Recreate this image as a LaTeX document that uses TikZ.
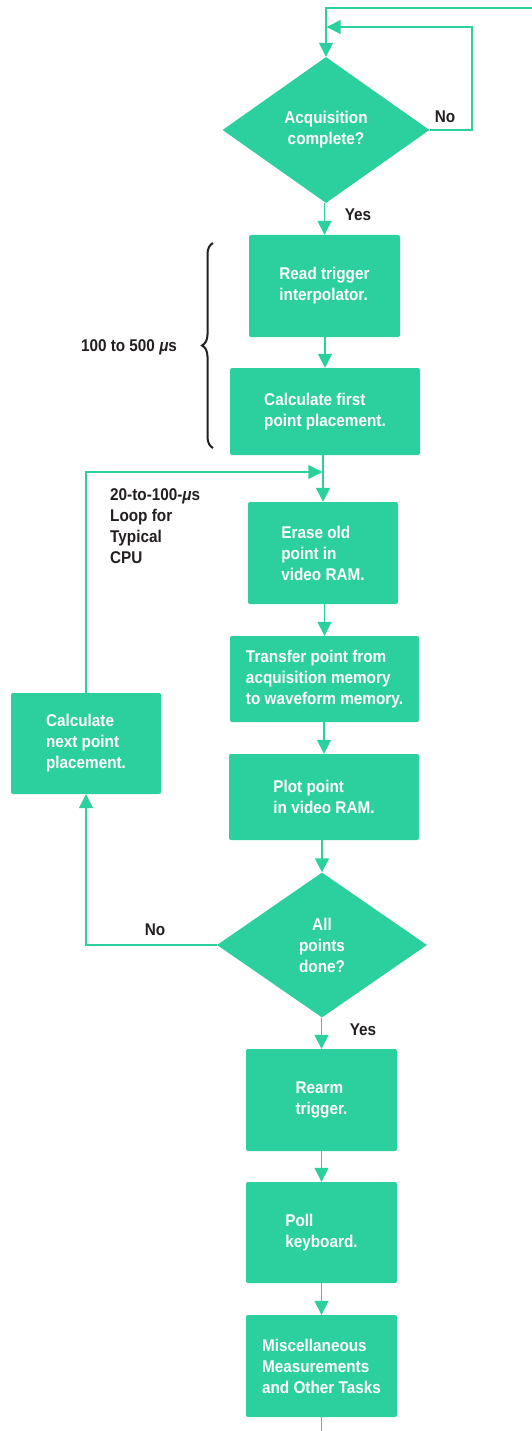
\documentclass[tikz,border=0pt]{standalone}
\usepackage{fontspec}
\setmainfont{Liberation Sans}[FakeStretch=0.9]
\usetikzlibrary{arrows.meta,shapes.geometric,decorations.pathreplacing}
\definecolor{flowteal}{RGB}{44,208,158}
\definecolor{labelink}{RGB}{35,31,32}
\newcommand{\flowfont}{\fontsize{17}{21}\selectfont\bfseries}
\begin{document}
\begin{tikzpicture}[x=1pt,y=-1pt,
  box/.style={rectangle, fill=flowteal, rounded corners=2pt, text=white,
    align=left, font=\flowfont, inner sep=0pt},
  decision/.style={diamond, fill=flowteal, text=white, align=center,
    font=\flowfont, inner sep=0pt},
  note/.style={text=labelink, font=\flowfont, inner sep=0pt, align=left},
  link/.style={draw=flowteal, line width=1.5pt},
  flow/.style={link, -{Triangle[width=14pt,length=14pt]}},
]
\useasboundingbox (0,0) rectangle (532,1431);

% decision and process blocks
\node[decision, minimum width=207pt, minimum height=146pt] (acq) at (326,130)
  {Acquisition\\complete?};
\node[box, minimum width=151pt, minimum height=102pt] (readtrig) at (324.5,286)
  {Read trigger\\interpolator.};
\node[box, minimum width=190pt, minimum height=87pt] (firstpt) at (325,411.5)
  {Calculate first\\point placement.};
\node[box, minimum width=150pt, minimum height=102pt] (erase) at (323,553)
  {Erase old\\point in\\video RAM.};
\node[box, minimum width=189pt, minimum height=86pt] (transfer) at (324.5,679)
  {Transfer point from\\acquisition memory\\to waveform memory.};
\node[box, minimum width=150pt, minimum height=101pt] (nextpt) at (86,743.5)
  {Calculate\\next point\\placement.};
\node[box, minimum width=190pt, minimum height=86pt] (plot) at (324,797)
  {Plot point\\in video RAM.};
\node[decision, minimum width=210pt, minimum height=145pt] (alldone) at (322,945)
  {All\\points\\done?};
\node[box, minimum width=151pt, minimum height=102pt] (rearm) at (321.5,1100)
  {Rearm\\trigger.};
\node[box, minimum width=151pt, minimum height=101pt] (poll) at (321.5,1232.5)
  {Poll\\keyboard.};
\node[box, minimum width=151pt, minimum height=102pt] (misc) at (321.5,1366)
  {Miscellaneous\\Measurements\\and Other Tasks};

% free ends and bends
\coordinate (entry) at (532,8);
\coordinate (waitcorner) at (472,27);
\coordinate (merge) at (323,472);
\coordinate (exit) at (321.5,1431);

% connectors
\draw[flow] (entry) -| (acq.north);
\draw[flow] (acq.east) -| (waitcorner) -- ([xshift=0.7pt]acq.north |- waitcorner);
\draw[flow] (readtrig.north |- acq.south) -- (readtrig.north);
\draw[flow] (firstpt.north |- readtrig.south) -- (firstpt.north);
\draw[flow] (erase.north |- firstpt.south) -- (erase.north);
\draw[flow] (nextpt.north) |- ([xshift=-0.7pt]merge);
\draw[flow] (transfer.north |- erase.south) -- (transfer.north);
\draw[flow] (plot.north |- transfer.south) -- (plot.north);
\draw[flow] (alldone.north |- plot.south) -- (alldone.north);
\draw[flow] (alldone.west) -| (nextpt.south);
\draw[flow] (rearm.north |- alldone.south) -- (rearm.north);
\draw[flow] (poll.north |- rearm.south) -- (poll.north);
\draw[flow] (misc.north |- poll.south) -- (misc.north);
\draw[link] (misc.south) -- (exit);

% branch labels
\node[note] (acqno) at (445,117) {No};
\node[note] (acqyes) at (358,215) {Yes};
\node[note] (doneno) at (155,930) {No};
\node[note] (doneyes) at (363,1030) {Yes};

% timing annotations
\draw[labelink, line width=2pt, decoration={brace, amplitude=11pt}, decorate]
  (213,448) -- (213,243);
\node[note] (setuptime) at (129,347) {100 to 500 {\itshape μ}s};
\node[note, anchor=west] (looptime) at (110,526)
  {20-to-100-{\itshape μ}s\\Loop for\\Typical\\CPU};
\end{tikzpicture}
\end{document}
